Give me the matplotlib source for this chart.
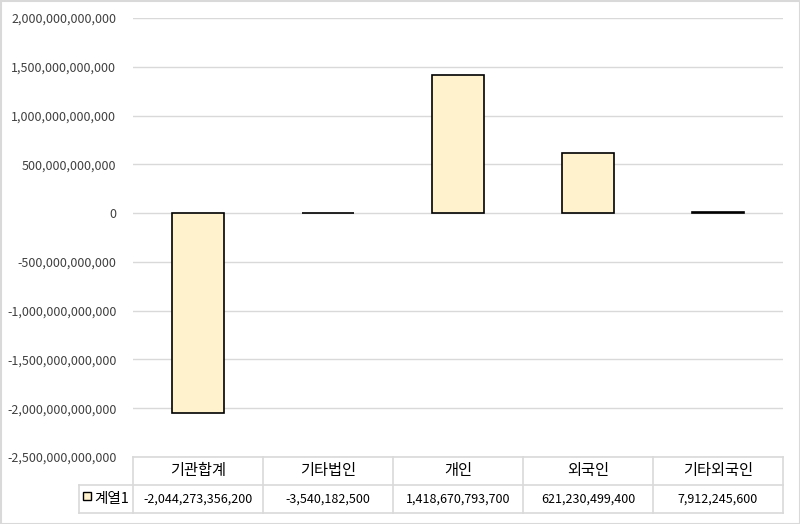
import matplotlib
matplotlib.use("Agg")
import matplotlib.pyplot as plt
from matplotlib.ticker import FuncFormatter
from matplotlib.patches import Rectangle

plt.rcParams["font.family"] = ["Noto Sans CJK KR", "DejaVu Sans"]

categories = ["기관합계", "기타법인", "개인", "외국인", "기타외국인"]
values = [-2044273356200, -3540182500, 1418670793700, 621230499400, 7912245600]
series_name = "계열1"

BAR_COLOR = "#FFF2CC"
GRID_COLOR = "#D9D9D9"
TEXT_COLOR = "#404040"

fig = plt.figure(figsize=(8, 5.24), dpi=100)
fig.patch.set_facecolor("white")

left, right = 133 / 800, 783 / 800
top, bottom = 1 - 18 / 524, 1 - 457 / 524
ax = fig.add_axes([left, bottom, right - left, top - bottom])

x = list(range(len(categories)))
ax.bar(x, values, width=0.4, color=BAR_COLOR, edgecolor="black", linewidth=1.2, zorder=3)

ax.set_xlim(-0.5, len(categories) - 0.5)
ax.set_ylim(-2.5e12, 2.0e12)
ax.set_yticks([i * 5e11 for i in range(-5, 5)])
ax.yaxis.set_major_formatter(FuncFormatter(lambda v, p: f"{int(round(v)):,}"))
ax.tick_params(axis="y", length=0, labelsize=9, labelcolor=TEXT_COLOR, pad=12)
ax.set_xticks([])
ax.grid(axis="y", color=GRID_COLOR, linewidth=1, zorder=0)
for s in ax.spines.values():
    s.set_visible(False)

# data table below the axes
row_h = 28 / 524
col_w = (right - left) / len(categories)
hdr_top = bottom
hdr_bot = bottom - row_h
dat_bot = hdr_bot - row_h
lab_left = 79 / 800
lc = GRID_COLOR
lw = 1.2

def hline(y, x0, x1):
    fig.add_artist(plt.Line2D([x0, x1], [y, y], color=lc, lw=lw, transform=fig.transFigure))

def vline(x0, y0, y1):
    fig.add_artist(plt.Line2D([x0, x0], [y0, y1], color=lc, lw=lw, transform=fig.transFigure))

hline(hdr_top, left, right)
hline(hdr_bot, lab_left, right)
hline(dat_bot, lab_left, right)
vline(lab_left, hdr_bot, dat_bot)
for i in range(len(categories) + 1):
    vline(left + i * col_w, hdr_top, dat_bot)

for i, (c, v) in enumerate(zip(categories, values)):
    cx = left + (i + 0.5) * col_w
    fig.text(cx, (hdr_top + hdr_bot) / 2, c, ha="center", va="center",
             fontsize=11, color="black")
    fig.text(cx, (hdr_bot + dat_bot) / 2, f"{v:,}", ha="center", va="center",
             fontsize=9, color="black")

# legend key + series name
fig.add_artist(Rectangle((83 / 800, 1 - 500 / 524), 8 / 800, 8 / 524,
                         facecolor=BAR_COLOR, edgecolor="black", lw=1,
                         transform=fig.transFigure))
fig.text(94 / 800, (hdr_bot + dat_bot) / 2, series_name, ha="left", va="center",
         fontsize=10.5, color="black")

# outer chart border
fig.add_artist(Rectangle((0.5 / 800, 0.5 / 524), 799 / 800, 523 / 524, fill=False,
                         edgecolor=GRID_COLOR, lw=1.5, transform=fig.transFigure))

fig.savefig("out.png", dpi=100)
